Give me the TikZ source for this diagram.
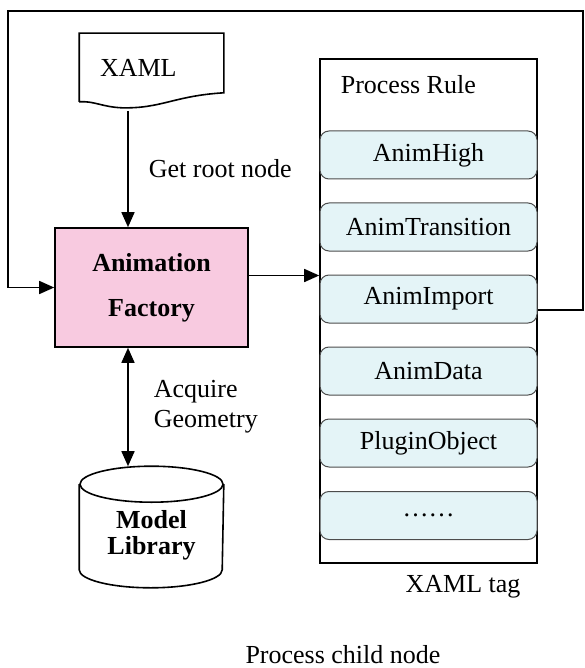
\documentclass[tikz,border=0pt]{standalone}
\usepackage{fontspec}
\setmainfont{Liberation Serif}
\usetikzlibrary{arrows.meta}
\definecolor{factorypink}{HTML}{F8CAE0}
\definecolor{rulecyan}{HTML}{E4F4F7}
\begin{document}
\begin{tikzpicture}[x=1pt,y=-1pt,
  font=\fontsize{26}{30}\selectfont,
  line width=1.6pt,
  >={Triangle[length=15pt,width=13pt]},
  rulebox/.style={rectangle, rounded corners=9pt, fill=rulecyan, draw=black!70, line width=1pt,
    minimum width=217pt, minimum height=48pt, inner sep=0pt},
  plaintext/.style={inner sep=0pt}]
\useasboundingbox (0,0) rectangle (584,668);
% XAML document
\node [inner xsep=20pt, text width=103pt, minimum height=67pt, align=left] (xaml) at (151.5,67.5) {XAML};
\draw (xaml.south west) -- (xaml.north west) -- (xaml.north east) -- ([yshift=9pt]xaml.south east)
  .. controls +(-50,3) and +(40,1) .. ([xshift=-30pt,yshift=-6pt]xaml.south)
  .. controls +(-20,-1) and +(15,-1) .. (xaml.south west);
% factory
\node [draw, fill=factorypink, minimum width=193pt, minimum height=119pt, align=center,
  font=\fontsize{26}{30}\selectfont\bfseries] (factory) at (151.5,287.5) {Animation\\[15pt]Factory};
% model library (cylinder drawn round the node)
\node [minimum width=143pt, minimum height=120pt, inner sep=0pt,
  label={[plaintext, yshift=-8pt, align=center, font=\fontsize{26}{26}\selectfont\bfseries]center:Model\\Library}]
  (lib) at (151.5,527) {};
\draw ([yshift=-18pt]lib.north) ellipse [x radius=71.5pt, y radius=18pt];
\draw ([yshift=-18pt]lib.north west) -- ([yshift=18pt]lib.south west)
  arc [start angle=180, end angle=360, x radius=71.5pt, y radius=18pt] -- ([yshift=-18pt]lib.north east);
% process rules
\node [draw, minimum width=217pt, minimum height=504pt] (proc) at (428.5,311) {};
\node [plaintext, anchor=west] (title) at (340,85) {Process Rule};
\node [rulebox] (high) at (428.5,155) {AnimHigh};
\node [rulebox] (trans) at (428.5,227) {AnimTransition};
\node [rulebox] (import) at (428.5,299) {AnimImport};
\node [rulebox] (data) at (428.5,371) {AnimData};
\node [rulebox] (plugin) at (428.5,443) {PluginObject};
\node [rulebox] (more) at (428.5,515.5) {……};
\node [plaintext] (tag) at (463,587) {XAML tag};
\node [plaintext] (child) at (343,655) {Process child node};
% connectors
\draw [->] ([xshift=-23.5pt,yshift=-9pt]xaml.south) -- ([xshift=-23.5pt]factory.north)
  node [plaintext, midway, anchor=west, xshift=20pt] (getroot) {Get root node};
\draw [->] ([yshift=12pt]factory.east) -- ([yshift=12pt]factory.east -| proc.west);
\draw [<->] ([xshift=-23.5pt]factory.south) -- ([xshift=-23.5pt]factory.south |- lib.north)
  node [plaintext, midway, anchor=west, xshift=25pt, align=left] (acquire) {Acquire\\Geometry};
\coordinate (loopne) at (583,11);
\coordinate (loopnw) at (8,11);
\draw [->] ([yshift=-11pt]import.east) -| (loopne) -- (loopnw) |- (factory.west);
\end{tikzpicture}
\end{document}
